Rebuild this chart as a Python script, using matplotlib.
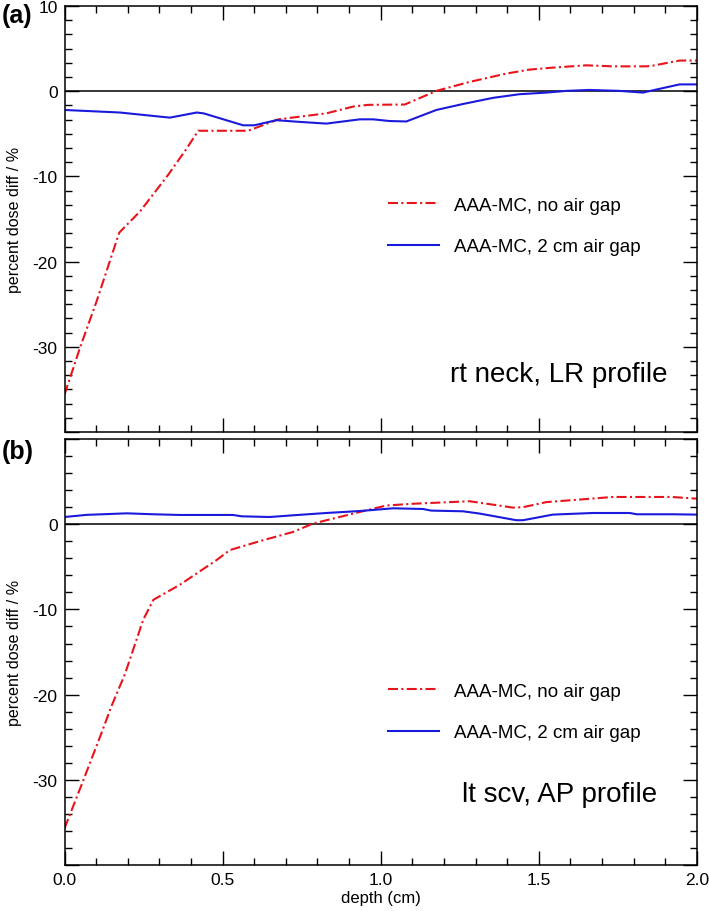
import numpy as np
import matplotlib
matplotlib.use("Agg")
import matplotlib.pyplot as plt
from matplotlib.ticker import AutoMinorLocator, MultipleLocator

plt.rcParams["font.family"] = ["Liberation Sans", "DejaVu Sans"]

# (a) rt neck, LR profile
a_red_x = [0.0, 0.049, 0.102, 0.173, 0.239, 0.328, 0.383, 0.423, 0.581, 0.676,
           0.828, 0.913, 0.96, 1.076, 1.176, 1.281, 1.397, 1.471, 1.544, 1.65,
           1.734, 1.84, 1.86, 1.945, 2.0]
a_red_y = [-35.6, -30.1, -24.6, -16.6, -14.1, -9.8, -6.9, -4.64, -4.64, -3.3,
           -2.6, -1.8, -1.6, -1.56, 0.04, 1.09, 2.07, 2.54, 2.77, 3.04,
           2.92, 2.92, 3.0, 3.6, 3.6]
a_blue_x = [0.0, 0.175, 0.333, 0.418, 0.44, 0.565, 0.6, 0.67, 0.744, 0.828,
            0.934, 0.976, 1.028, 1.081, 1.176, 1.26, 1.355, 1.439, 1.524, 1.587,
            1.66, 1.755, 1.829, 1.86, 1.945, 2.0]
a_blue_y = [-2.2, -2.5, -3.1, -2.5, -2.6, -4.0, -4.0, -3.4, -3.6, -3.8,
            -3.3, -3.3, -3.5, -3.55, -2.2, -1.5, -0.78, -0.35, -0.16, 0.04,
            0.15, 0.04, -0.16, 0.1, 0.8, 0.8]

# (b) lt scv, AP profile
b_red_x = [0.0, 0.059, 0.118, 0.149, 0.191, 0.249, 0.281, 0.365, 0.481, 0.523,
           0.618, 0.723, 0.786, 0.934, 1.018, 1.1, 1.281, 1.418, 1.45, 1.524,
           1.63, 1.734, 1.92, 2.0]
b_red_y = [-35.7, -30.1, -24.4, -21.3, -17.6, -11.2, -8.87, -7.1, -4.2, -3.03,
           -1.98, -0.9, 0.08, 1.44, 2.2, 2.4, 2.7, 1.95, 2.0, 2.6,
           2.9, 3.2, 3.2, 3.0]
b_blue_x = [0.0, 0.07, 0.197, 0.28, 0.365, 0.533, 0.56, 0.649, 0.723, 0.828,
            0.934, 1.039, 1.134, 1.16, 1.26, 1.313, 1.429, 1.45, 1.544, 1.671,
            1.787, 1.81, 1.924, 2.0]
b_blue_y = [0.85, 1.1, 1.28, 1.17, 1.09, 1.09, 0.93, 0.85, 1.05, 1.32,
            1.55, 1.87, 1.79, 1.6, 1.52, 1.25, 0.47, 0.47, 1.13, 1.32,
            1.32, 1.17, 1.17, 1.13]

labels = ["AAA-MC, no air gap", "AAA-MC, 2 cm air gap"]
panels = [
    ("(a)", "rt neck, LR profile", a_red_x, a_red_y, a_blue_x, a_blue_y),
    ("(b)", "lt scv, AP profile", b_red_x, b_red_y, b_blue_x, b_blue_y),
]

fig = plt.figure(figsize=(7.09, 9.12), dpi=100)
ax_a = fig.add_axes([0.091, 0.5252, 0.892, 0.4671])
ax_b = fig.add_axes([0.091, 0.0504, 0.892, 0.4671])
dash_dot = (0, (4.8, 1.6, 1.0, 1.6))

for i, (ax, (tag, note, rx, ry, bx, by)) in enumerate(zip([ax_a, ax_b], panels)):
    ax.axhline(0, color="black", lw=1.1, zorder=1)
    ax.plot(rx, ry, color="#e8141b", lw=1.5, linestyle=dash_dot, label=labels[0])
    ax.plot(bx, by, color="#1a1adc", lw=1.5, label=labels[1])
    ax.set_xlim(0, 2)
    ax.set_ylim(-40, 10)
    ax.xaxis.set_major_locator(MultipleLocator(0.5))
    ax.xaxis.set_minor_locator(MultipleLocator(0.1))
    ax.set_yticks(np.arange(-40, 11, 10))
    ax.yaxis.set_minor_locator(AutoMinorLocator(6 if i == 0 else 5))
    ax.tick_params(which="both", direction="in", top=True, right=True,
                   labelsize=12.5, width=1.0, pad=5)
    ax.tick_params(which="major", length=10)
    ax.tick_params(which="minor", length=5)
    for s in ax.spines.values():
        s.set_linewidth(1.1)
    if i == 0:
        ax.set_yticklabels(["", "-30", "-20", "-10", "0", "10"])
        ax.tick_params(labelbottom=False)
        ax.legend(loc="upper left", bbox_to_anchor=(0.497, 0.575), frameon=False,
                  fontsize=13.5, handlelength=2.7, handletextpad=0.8,
                  labelspacing=1.3, borderpad=0)
        ax.text(0.953, 0.12, note, transform=ax.transAxes, ha="right",
                va="baseline", fontsize=20)
        ax.yaxis.set_label_coords(-0.068, 0.54)
    else:
        ax.set_yticklabels(["", "-30", "-20", "-10", "0", ""])
        ax.set_xticks([0, 0.5, 1.0, 1.5, 2.0])
        ax.set_xticklabels(["0.0", "0.5", "1.0", "1.5", "2.0"])
        ax.legend(loc="upper left", bbox_to_anchor=(0.497, 0.45), frameon=False,
                  fontsize=13.5, handlelength=2.7, handletextpad=0.8,
                  labelspacing=1.3, borderpad=0)
        ax.text(0.937, 0.15, note, transform=ax.transAxes, ha="right",
                va="baseline", fontsize=20)
        ax.set_xlabel("depth (cm)", fontsize=12, labelpad=2)
        ax.yaxis.set_label_coords(-0.068, 0.54)
    ax.set_ylabel("percent dose diff / %", fontsize=11.5)

fig.text(0.003, 0.982, "(a)", fontsize=18, fontweight="bold", va="center")
fig.text(0.003, 0.504, "(b)", fontsize=18, fontweight="bold", va="center")

fig.savefig("out.png", dpi=100)
